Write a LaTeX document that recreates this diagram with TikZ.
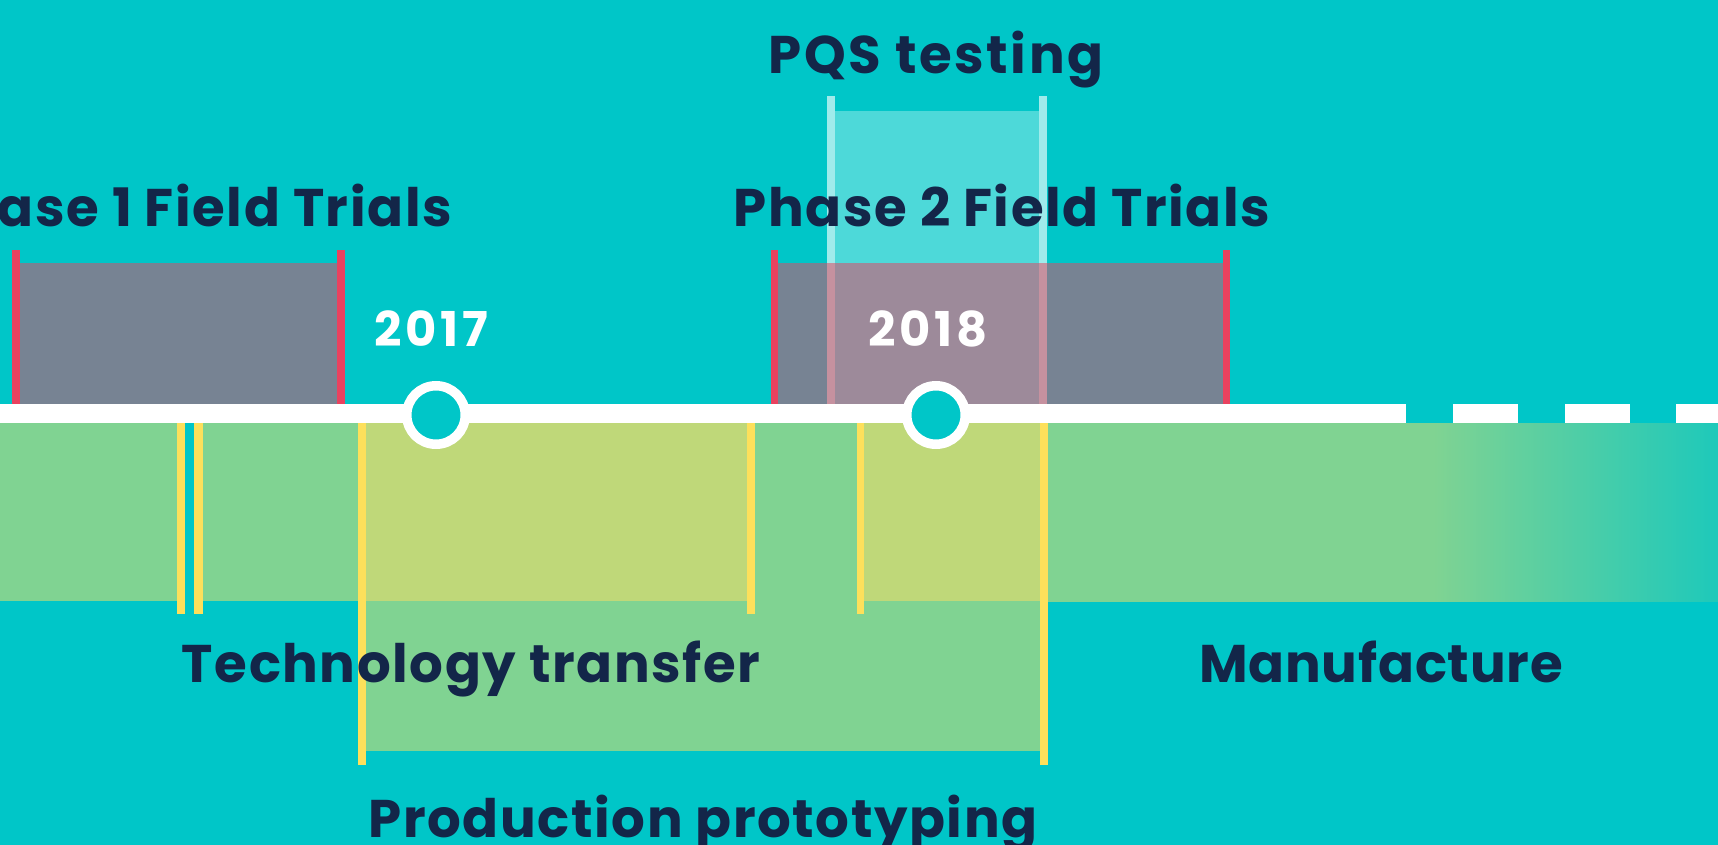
\documentclass[tikz,border=0pt]{standalone}
\usepackage{fontspec}
\setmainfont{Poppins}
\definecolor{bg}{HTML}{00C6C8}
\definecolor{navy}{HTML}{132649}
\definecolor{grayb}{HTML}{778393}
\definecolor{redb}{HTML}{E9425F}
\definecolor{pqsbox}{HTML}{4DD9D9}
\definecolor{pqsbar}{HTML}{A0EBEB}
\definecolor{overlapbox}{HTML}{9D8A9A}
\definecolor{overlapbar}{HTML}{C6919F}
\definecolor{greenb}{HTML}{80D392}
\definecolor{ygreen}{HTML}{BFD879}
\definecolor{yellowb}{HTML}{FDE05B}
\definecolor{tealend}{HTML}{1EC9BA}
\pgfdeclarehorizontalshading{manufshade}{100bp}{color(0bp)=(greenb); color(25bp)=(greenb); color(58.3bp)=(greenb); color(75bp)=(tealend); color(100bp)=(tealend)}
\begin{document}
\begin{tikzpicture}[x=1pt,y=-1pt,
  lbl/.style={inner sep=0, anchor=base, text=navy, font=\fontsize{53}{60}\selectfont\bfseries\addfontfeature{LetterSpace=#1}},
  lbl/.default=3,
  yearlbl/.style={inner sep=0, anchor=base, text=white, font=\fontsize{48}{58}\selectfont\bfseries\addfontfeature{LetterSpace=8}},
  yearring/.style={circle, draw=white, line width=9.5pt, fill=bg, minimum size=58.5pt, inner sep=0}]
\fill[bg] (0,0) rectangle (1718,845);
\useasboundingbox (0,0) rectangle (1718,845);
% ---------- upper bars ----------
% Phase 1
\fill[redb] (12,250) rectangle (20,404);
\fill[grayb] (20,263) rectangle (337,404);
\fill[redb] (337,250) rectangle (345,404);
% Phase 2
\fill[redb] (771,250) rectangle (778,404);
\fill[grayb] (778,263) rectangle (1223,404);
\fill[redb] (1223,250) rectangle (1230,404);
% PQS testing
\fill[pqsbar] (827,96) rectangle (835,263);
\fill[pqsbox] (835,111) rectangle (1039,263);
\fill[pqsbar] (1039,96) rectangle (1047,263);
\fill[overlapbar] (827,263) rectangle (835,404);
\fill[overlapbox] (835,263) rectangle (1039,404);
\fill[overlapbar] (1039,263) rectangle (1047,404);
% ---------- lower bars ----------
\fill[greenb] (0,423) rectangle (177,601);
\fill[greenb] (203,423) rectangle (747,601);
\fill[greenb] (366,423) rectangle (1040,751);
\shade[shading=manufshade] (864,423) rectangle (1718,601);
\fill[ygreen] (366,423) rectangle (747,601);
\fill[ygreen] (864,423) rectangle (1040,601);
\fill[yellowb] (177,423) rectangle (185,614);
\fill[yellowb] (194,423) rectangle (203,614);
\fill[yellowb] (747,423) rectangle (755,614);
\fill[yellowb] (857,423) rectangle (864,614);
\fill[yellowb] (358,423) rectangle (366,765);
\fill[yellowb] (1040,423) rectangle (1048,765);
% ---------- timeline ----------
\fill[white] (0,404) rectangle (1406,423);
\fill[white] (1453,404) rectangle (1518,423);
\fill[white] (1565,404) rectangle (1630,423);
\fill[white] (1676,404) rectangle (1718,423);
\node[yearring] (c2017) at (436,415) {};
\node[yearring] (c2018) at (936,415) {};
% ---------- labels ----------
\node[yearlbl] (y2017) at (431,346) {2017};
\node[yearlbl] (y2018) at (928,346) {2018};
\node[lbl, anchor=base east] (phase1) at (452,226) {Phase 1 Field Trials};
\node[lbl] (phase2) at (1002,226) {Phase 2 Field Trials};
\node[lbl=5] (pqs) at (936,74) {PQS testing};
\node[lbl] (tech) at (471,682) {Technology transfer};
\node[lbl=1.5] (manuf) at (1381,682) {Manufacture};
\node[lbl] (prod) at (703,837) {Production prototyping};
\end{tikzpicture}
\end{document}
